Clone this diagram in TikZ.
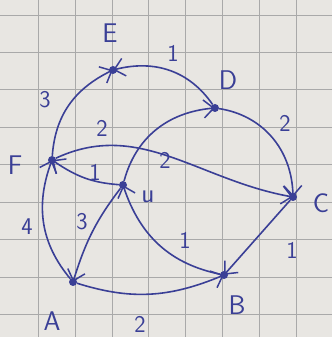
\documentclass[tikz,border=0pt]{standalone}
\usetikzlibrary{arrows.meta}
\definecolor{ink}{HTML}{3A3F96}
\definecolor{paper}{HTML}{E8E6E2}
\definecolor{gridc}{HTML}{A9A9A9}
\begin{document}
\begin{tikzpicture}[x=1pt,y=1pt,
  vtx/.style={circle,fill=ink,inner sep=0pt,minimum size=8pt},
  lbl/.style={text=ink,font=\sffamily\fontsize{27}{27}\selectfont},
  wt/.style={text=ink,font=\sffamily\fontsize{24}{24}\selectfont},
  edge/.style={draw=ink,line width=1.6pt,shorten >=-4pt,
    -{Straight Barb[length=10pt,width=18pt,line width=1.5pt]}}]
\fill[paper] (0,0) rectangle (332,337);
\useasboundingbox (0,0) rectangle (332,337);
\foreach \gx in {38,75,112,148.5,185.5,222.5,259,296}
  \draw[gridc,line width=0.8pt] (\gx,0) -- (\gx,337);
\foreach \gy in {15,52.4,89.9,127.3,164.7,202.1,239.6,277,314.4}
  \draw[gridc,line width=0.8pt] (0,337-\gy) -- (332,337-\gy);
% vertices
\node[vtx] (E) at (113,267) {};
\node[vtx] (D) at (215,229) {};
\node[vtx] (F) at (52,177) {};
\node[vtx] (u) at (123,152) {};
\node[vtx] (C) at (293,140) {};
\node[vtx] (A) at (73,55) {};
\node[vtx] (B) at (224,62) {};
% vertex labels
\node[lbl] (lE) at (110,304) {E};
\node[lbl] (lD) at (228,257) {D};
\node[lbl] (lF) at (15,172) {F};
\node[lbl] (lC) at (321,134) {C};
\node[lbl] (lA) at (52,16) {A};
\node[lbl] (lB) at (237,32) {B};
\node[lbl] (lu) at (148,140) {u};
% edges
\draw[edge] (F) to[bend left=30] (E);
\draw[edge] (D) to[bend right=35] (E);
\draw[edge] (D) to[bend left=40] (C);
\draw[edge] (u) to[bend left=35] (D);
\draw[edge] (F) to[out=25,in=170] (C);
\draw[edge] (u) to[bend left=15] (F);
\draw[edge] (A) to[bend left=30] (F);
\draw[edge] (u) to[bend right=10] (A);
\draw[edge] (B) to[bend left=30] (u);
\draw[edge] (A) to[bend right=20] (B);
\draw[edge] (C) -- (B);
% weights
\node[wt] (wED) at (173,284) {1};
\node[wt] (wFE) at (45,237) {3};
\node[wt] (wDC) at (285,214) {2};
\node[wt] (wFC) at (102,209) {2};
\node[wt] (wuD) at (165,177) {2};
\node[wt] (wuF) at (95,165) {1};
\node[wt] (wAF) at (27,110) {4};
\node[wt] (wuA) at (82,115) {3};
\node[wt] (wBu) at (185,97) {1};
\node[wt] (wCB) at (292,87) {1};
\node[wt] (wAB) at (140,13) {2};
\end{tikzpicture}
\end{document}
